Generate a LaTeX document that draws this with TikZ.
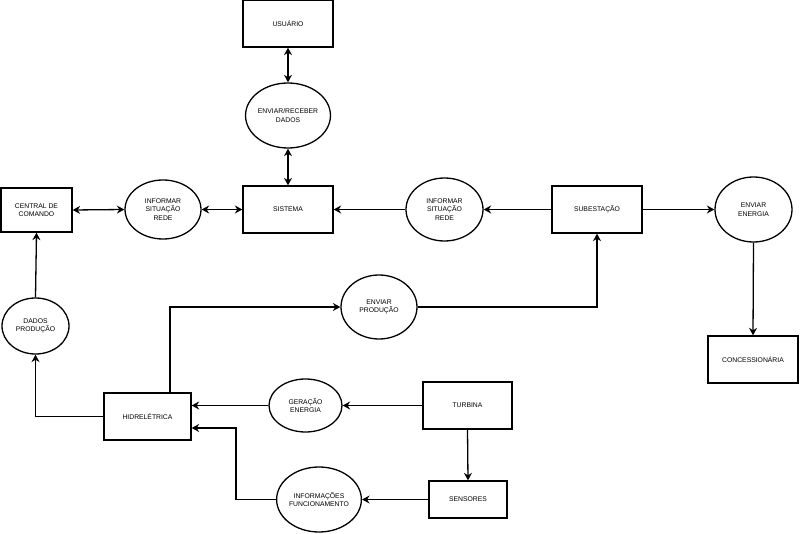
\documentclass[tikz,border=0pt]{standalone}
\usepackage{fontspec}
\setmainfont{Liberation Sans}
\usetikzlibrary{shapes.geometric,arrows.meta}
\begin{document}
\begin{tikzpicture}[x=1pt,y=-1pt,
  font=\fontsize{6.8}{8.4}\selectfont,
  box/.style={draw,line width=1.3pt,rectangle,inner sep=0pt,minimum width=90pt,minimum height=47pt,align=center},
  proc/.style={draw,line width=1.3pt,ellipse,inner sep=0pt,align=center},
  conn/.style={line width=1.3pt,-{Stealth[length=7.5pt,width=8pt,inset=2.5pt]}},
  bconn/.style={line width=1.3pt,{Stealth[length=7.5pt,width=8pt,inset=2.5pt]}-{Stealth[length=7.5pt,width=8pt,inset=2.5pt]}}]
\useasboundingbox[fill=white] (0,0) rectangle (800,534);
% boxes
\node[box] (usu) at (288,23.5) {USUÁRIO};
\node[box] (sis) at (288,209.5) {SISTEMA};
\node[box,minimum width=71pt,minimum height=44pt] (cen) at (36.5,210) {CENTRAL DE\\COMANDO};
\node[box] (sub) at (597,209.5) {SUBESTAÇÃO};
\node[box] (con) at (753,359.5) {CONCESSIONÁRIA};
\node[box,minimum width=87pt] (hid) at (147.5,416.5) {HIDRELÉTRICA};
\node[box,minimum width=89pt] (tur) at (467.5,405.5) {TURBINA};
\node[box,minimum width=78pt,minimum height=37pt] (sen) at (468,499.5) {SENSORES};
% processes
\node[proc,minimum width=75pt,minimum height=65pt] (env) at (288,115.5) {ENVIAR/RECEBER\\DADOS};
\node[proc,minimum width=76pt,minimum height=59pt] (inf1) at (163,209.5) {INFORMAR\\SITUAÇÃO\\REDE};
\node[proc,minimum width=77pt,minimum height=63pt] (inf2) at (444.5,209.5) {INFORMAR\\SITUAÇÃO\\REDE};
\node[proc,minimum width=77pt,minimum height=65pt] (ene) at (753.5,209.5) {ENVIAR\\ENERGIA};
\node[proc,minimum width=76pt,minimum height=64pt] (envp) at (379,307) {ENVIAR\\PRODUÇÃO};
\node[proc,minimum width=67pt,minimum height=56pt] (dad) at (35.5,326) {DADOS\\PRODUÇÃO};
\node[proc,minimum width=73pt,minimum height=53pt] (ger) at (305.5,405.5) {GERAÇÃO\\ENERGIA};
\node[proc,minimum width=76pt,minimum height=65pt] (inf3) at (319,499.5) {INFORMAÇÕES\\FUNCIONAMENTO};
% connectors
\draw[bconn] (usu.south) -- (env.north);
\draw[bconn] (env.south) -- (sis.north);
\draw[bconn] (cen.east) -- (inf1.west);
\draw[bconn] (inf1.east) -- (sis.west);
\draw[conn] (inf2.west) -- (sis.east);
\draw[conn] (sub.west) -- (inf2.east);
\draw[conn] (sub.east) -- (ene.west);
\draw[conn] (ene.south) -- (con.north);
\draw[conn] (envp.east) -| (sub.south);
\draw[conn] ([xshift=22.5pt]hid.north) |- (envp.west);
\draw[conn] (hid.west) -| (dad.south);
\draw[conn] (dad.north) -- (cen.south);
\draw[conn] (tur.west) -- (ger.east);
\draw[conn] (ger.west) -- (ger.west -| hid.east);
\draw[conn] (tur.south) -- (sen.north);
\draw[conn] (sen.west) -- (inf3.east);
\coordinate (bend) at (236,499.5);
\draw[conn] (inf3.west) -- (bend) |- ([yshift=-11.5pt]hid.east);
\end{tikzpicture}
\end{document}
